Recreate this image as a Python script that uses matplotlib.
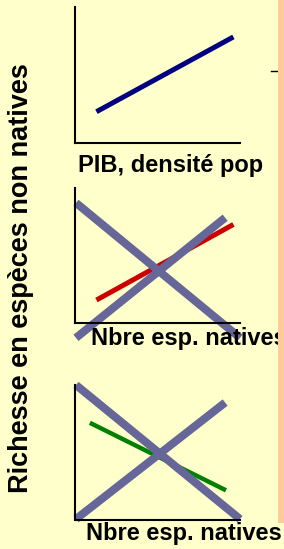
import matplotlib
matplotlib.use("Agg")
import matplotlib.pyplot as plt
from matplotlib.patches import Rectangle
from matplotlib.lines import Line2D

plt.rcParams['font.family'] = ['Liberation Sans', 'DejaVu Sans']

# donnees (coordonnees normalisees des tendances dans chaque panneau)
pib_x = [0.13, 0.96]
pib_y = [0.23, 0.78]

rouge_x = [0.13, 0.96]
rouge_y = [0.17, 0.73]

vert_x = [0.09, 0.915]
vert_y = [0.72, 0.22]

# croix (hypotheses rejetees)
croix2_desc_x = [0.006, 1.0]
croix2_desc_y = [0.89, -0.11]
croix2_asc_x = [0.006, 0.91]
croix2_asc_y = [-0.11, 0.78]

croix3_desc_x = [0.006, 1.0]
croix3_desc_y = [1.0, 0.007]
croix3_asc_x = [0.006, 0.91]
croix3_asc_y = [0.007, 0.87]

etiquettes = ["PIB, densité pop", "Nbre esp. natives", "Nbre esp. natives"]
titre_y = "Richesse en espèces non natives"

fond = '#FFFFCC'
peche = '#FFCC99'
gris = '#666699'

W, H = 284, 549
fig = plt.figure(figsize=(W / 100, H / 100), dpi=100, facecolor=fond)


def panneau(top, bottom, left=75, right=240):
    ax = fig.add_axes([left / W, (H - bottom) / H, (right - left) / W, (bottom - top) / H])
    ax.set_facecolor('none')
    ax.set_xlim(0, 1)
    ax.set_ylim(0, 1)
    for s in ['top', 'right']:
        ax.spines[s].set_visible(False)
    for s in ['left', 'bottom']:
        ax.spines[s].set_linewidth(1.5)
        ax.spines[s].set_color('black')
    ax.set_xticks([])
    ax.set_yticks([])
    return ax


ax1 = panneau(7, 143)
ax1.plot(pib_x, pib_y, color='#000080', lw=3.6, solid_capstyle='butt')

ax2 = panneau(188, 323)
ax2.plot(rouge_x, rouge_y, color='#CC0000', lw=3.6, solid_capstyle='butt')
ax2.plot(croix2_desc_x, croix2_desc_y, color=gris, lw=5.8, solid_capstyle='butt', clip_on=False)
ax2.plot(croix2_asc_x, croix2_asc_y, color=gris, lw=5.8, solid_capstyle='butt', clip_on=False)

ax3 = panneau(385, 520)
ax3.plot(vert_x, vert_y, color='#008000', lw=3.2, solid_capstyle='butt')
ax3.plot(croix3_desc_x, croix3_desc_y, color=gris, lw=5.8, solid_capstyle='butt', clip_on=False)
ax3.plot(croix3_asc_x, croix3_asc_y, color=gris, lw=5.8, solid_capstyle='butt', clip_on=False)

# etiquettes des axes x
fig.text(78 / W, 1 - 172 / H, etiquettes[0], fontsize=17, fontweight='bold', zorder=5)
fig.text(91 / W, 1 - 345 / H, etiquettes[1], fontsize=17, fontweight='bold', zorder=5)
fig.text(86 / W, 1 - 540 / H, etiquettes[2], fontsize=17, fontweight='bold', zorder=5)

fig.text(21 / W, 1 - 278 / H, titre_y, rotation=90, fontsize=19.5, fontweight='bold',
         ha='center', va='center')

# bande peche a droite
fig.patches.append(Rectangle((278 / W, 1 - 523 / H), 6 / W, 523 / H,
                             transform=fig.transFigure, facecolor=peche,
                             edgecolor='none', zorder=10))
fig.lines.append(Line2D([271 / W, 278 / W], [1 - 71 / H, 1 - 71 / H],
                        transform=fig.transFigure, color='black', lw=1))

fig.savefig('out.png', dpi=100, facecolor=fond)
